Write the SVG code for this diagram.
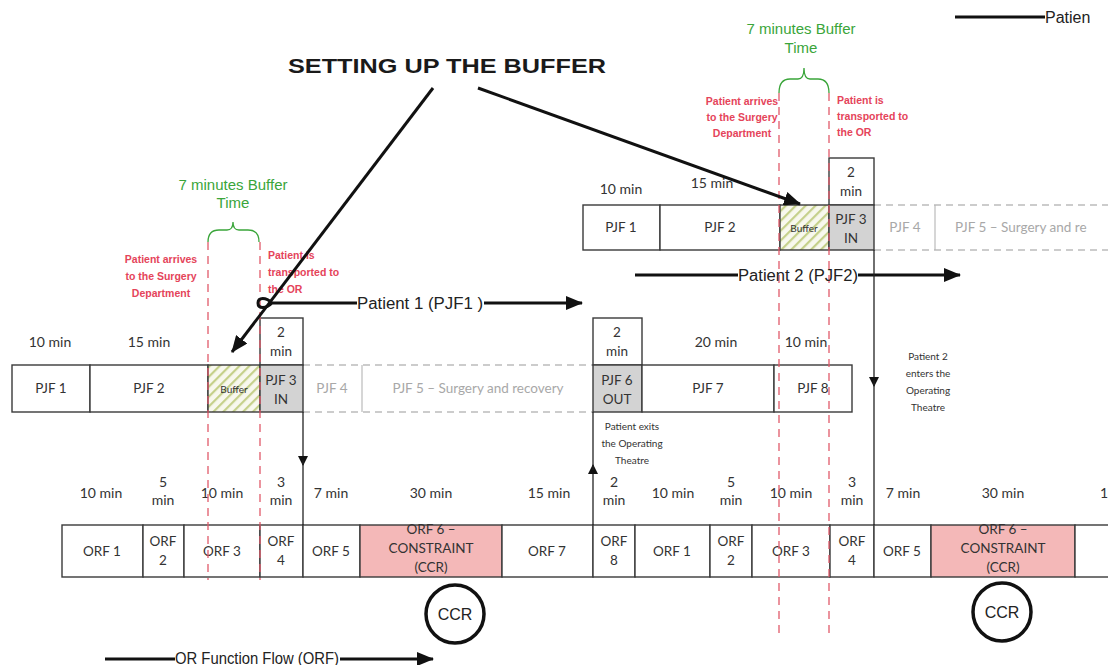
<svg xmlns="http://www.w3.org/2000/svg" width="1108" height="665" viewBox="0 0 1108 665">
<defs>
  <pattern id="hatch" patternUnits="userSpaceOnUse" width="7" height="7" patternTransform="rotate(45)">
    <rect width="7" height="7" fill="#f8f8ee"/>
    <line x1="1" y1="0" x2="1" y2="7" stroke="#c5d08a" stroke-width="2.4"/>
  </pattern>
  <marker id="big" markerUnits="userSpaceOnUse" markerWidth="18" markerHeight="14" refX="16" refY="7" orient="auto">
    <path d="M0,0 L17,7 L0,14 Z" fill="#111"/>
  </marker>
  <marker id="small" markerUnits="userSpaceOnUse" markerWidth="10" markerHeight="10" refX="9" refY="5" orient="auto">
    <path d="M0,0 L10,5 L0,10 Z" fill="#111"/>
  </marker>
  <style>
    .box{fill:#fff;stroke:#3a3a3a;stroke-width:1.4}
    .grey{fill:#d3d3d3;stroke:#3a3a3a;stroke-width:1.4}
    .buf{fill:url(#hatch);stroke:#3a3a3a;stroke-width:1.4}
    .ccr{fill:#f4b8b8;stroke:#3a3a3a;stroke-width:1.4}
    .ghost{fill:none;stroke:#9a9a9a;stroke-width:1.1;stroke-dasharray:7 5}
    .ghostv{fill:none;stroke:#b5b5b5;stroke-width:1.1}
    .t{font-family:Lato,"Liberation Sans",sans-serif;font-size:13.5px;fill:#333;text-anchor:middle}
    .tl{font-family:Lato,"Liberation Sans",sans-serif;font-size:14px;fill:#333;text-anchor:middle}
    .ts{font-family:Lato,"Liberation Sans",sans-serif;font-size:10px;fill:#333;text-anchor:middle}
    .tg{fill:#a8a8a8}
    .red{font-family:"Liberation Sans",sans-serif;font-size:10.5px;font-weight:bold;fill:#e5445a}
    .green{font-family:"Liberation Sans",sans-serif;font-size:15px;fill:#3aa53a;text-anchor:middle}
    .arial{font-family:"Liberation Sans",sans-serif;font-size:16px;fill:#222}
    .redline{fill:none;stroke:#e05a6a;stroke-width:1.3;stroke-dasharray:8 6}
    .brace{fill:none;stroke:#3aa53a;stroke-width:1.3}
    .thick{fill:none;stroke:#111;stroke-width:3}
    .conn{fill:none;stroke:#222;stroke-width:1.3}
    .circ{fill:#fff;stroke:#111;stroke-width:3.5}
  </style>
</defs>
<rect width="1108" height="665" fill="#fff"/>

<!-- Title -->
<g id="title">
  <text x="288" y="73" font-family="Liberation Sans, sans-serif" font-size="21" font-weight="bold" fill="#1a1a1a" textLength="318" lengthAdjust="spacingAndGlyphs">SETTING UP THE BUFFER</text>
</g>

<!-- Buffer annotations -->
<g id="buffer-left-annotation">
  <text class="green" x="233" y="190">7 minutes Buffer</text>
  <text class="green" x="233" y="208">Time</text>
  <path class="brace" d="M208,242 Q208,230 219,230 L227,230 Q233,230 233,222 Q233,230 239,230 L248,230 Q259,230 259,242"/>
  <text class="red" x="161" y="263" text-anchor="middle">Patient arrives</text>
  <text class="red" x="161" y="280" text-anchor="middle">to the Surgery</text>
  <text class="red" x="161" y="297" text-anchor="middle">Department</text>
  <text class="red" x="268" y="259">Patient is</text>
  <text class="red" x="268" y="276">transported to</text>
  <text class="red" x="268" y="293">the OR</text>
</g>
<g id="buffer-right-annotation">
  <text class="green" x="801" y="34">7 minutes Buffer</text>
  <text class="green" x="801" y="53">Time</text>
  <path class="brace" d="M779,93 Q779,79 790,79 L798,79 Q804,79 804,68 Q804,79 810,79 L818,79 Q829,79 829,93"/>
  <text class="red" x="742" y="105" text-anchor="middle">Patient arrives</text>
  <text class="red" x="742" y="121" text-anchor="middle">to the Surgery</text>
  <text class="red" x="742" y="137" text-anchor="middle">Department</text>
  <text class="red" x="837" y="104">Patient is</text>
  <text class="red" x="837" y="120">transported to</text>
  <text class="red" x="837" y="136">the OR</text>
</g>

<!-- Patient 1 PJF row -->
<g id="pjf1-row">
  <text class="tl" x="50" y="347">10 min</text>
  <text class="tl" x="149" y="347">15 min</text>
  <text class="tl" x="716" y="347">20 min</text>
  <text class="tl" x="806" y="347">10 min</text>
  <line class="ghost" x1="303" y1="365" x2="593" y2="365"/>
  <line class="ghost" x1="303" y1="412" x2="593" y2="412"/>
  <line class="ghostv" x1="362" y1="365" x2="362" y2="412"/>
  <g id="p1-pjf1"><rect class="box" x="12" y="365" width="78" height="47"/><text class="t" x="51" y="393">PJF 1</text></g>
  <g id="p1-pjf2"><rect class="box" x="90" y="365" width="118" height="47"/><text class="t" x="149" y="393">PJF 2</text></g>
  <g id="p1-buffer"><rect class="buf" x="208" y="365" width="52" height="47"/><text class="ts" x="234" y="393" font-size="9">Buffer</text></g>
  <g id="p1-pjf3"><rect class="box" x="260" y="318" width="43" height="47"/><text class="t" x="281" y="337">2</text><text class="t" x="281" y="356">min</text>
    <rect class="grey" x="260" y="365" width="43" height="47"/><text class="t" x="281" y="385">PJF 3</text><text class="t" x="281" y="404">IN</text></g>
  <g id="p1-pjf4"><text class="t tg" x="332" y="393">PJF 4</text></g>
  <g id="p1-pjf5"><text class="t tg" x="478" y="393">PJF 5 – Surgery and recovery</text></g>
  <g id="p1-pjf6"><rect class="box" x="593" y="318" width="49" height="47"/><text class="t" x="617" y="337">2</text><text class="t" x="617" y="356">min</text>
    <rect class="grey" x="593" y="365" width="49" height="47"/><text class="t" x="617" y="385">PJF 6</text><text class="t" x="617" y="404">OUT</text></g>
  <g id="p1-pjf7"><rect class="box" x="642" y="365" width="132" height="47"/><text class="t" x="708" y="393">PJF 7</text></g>
  <g id="p1-pjf8"><rect class="box" x="774" y="365" width="78" height="47"/><text class="t" x="813" y="393">PJF 8</text></g>
  <g id="exit-note">
    <text class="ts" x="632" y="430">Patient exits</text>
    <text class="ts" x="632" y="447">the Operating</text>
    <text class="ts" x="632" y="464">Theatre</text>
  </g>
</g>

<!-- Patient 2 PJF row -->
<g id="pjf2-row">
  <text class="tl" x="621" y="194">10 min</text>
  <text class="tl" x="712" y="188">15 min</text>
  <line class="ghost" x1="874" y1="205" x2="1108" y2="205"/>
  <line class="ghost" x1="874" y1="250" x2="1108" y2="250"/>
  <line class="ghostv" x1="935" y1="205" x2="935" y2="250"/>
  <g id="p2-pjf1"><rect class="box" x="583" y="205" width="77" height="45"/><text class="t" x="621" y="232">PJF 1</text></g>
  <g id="p2-pjf2"><rect class="box" x="660" y="205" width="120" height="45"/><text class="t" x="720" y="232">PJF 2</text></g>
  <g id="p2-buffer"><rect class="buf" x="780" y="205" width="49" height="45"/><text class="ts" x="804" y="232" font-size="9">Buffer</text></g>
  <g id="p2-pjf3"><rect class="box" x="829" y="158" width="45" height="47"/><text class="t" x="851" y="177">2</text><text class="t" x="851" y="196">min</text>
    <rect class="grey" x="829" y="205" width="45" height="45"/><text class="t" x="851" y="224">PJF 3</text><text class="t" x="851" y="243">IN</text></g>
  <g id="p2-pjf4"><text class="t tg" x="905" y="232">PJF 4</text></g>
  <g id="p2-pjf5"><text class="t tg" x="955" y="232" style="text-anchor:start">PJF 5 – Surgery and re</text></g>
  <g id="enter-note">
    <text class="ts" x="928" y="360">Patient 2</text>
    <text class="ts" x="928" y="377">enters the</text>
    <text class="ts" x="928" y="394">Operating</text>
    <text class="ts" x="928" y="411">Theatre</text>
  </g>
</g>

<!-- ORF row -->
<g id="orf-row">
  <text class="tl" x="101" y="498">10 min</text>
  <text class="tl" x="163" y="487">5</text><text class="tl" x="163" y="505">min</text>
  <text class="tl" x="222" y="498">10 min</text>
  <text class="tl" x="281" y="487">3</text><text class="tl" x="281" y="505">min</text>
  <text class="tl" x="331" y="498">7 min</text>
  <text class="tl" x="431" y="498">30 min</text>
  <text class="tl" x="549" y="498">15 min</text>
  <text class="tl" x="614" y="487">2</text><text class="tl" x="614" y="505">min</text>
  <text class="tl" x="673" y="498">10 min</text>
  <text class="tl" x="731" y="487">5</text><text class="tl" x="731" y="505">min</text>
  <text class="tl" x="791" y="498">10 min</text>
  <text class="tl" x="852" y="487">3</text><text class="tl" x="852" y="505">min</text>
  <text class="tl" x="903" y="498">7 min</text>
  <text class="tl" x="1003" y="498">30 min</text>
  <text class="tl" x="1100" y="498" style="text-anchor:start">1</text>
  <g id="orf1a"><rect class="box" x="62" y="525" width="81" height="52"/><text class="t" x="102" y="556">ORF 1</text></g>
  <g id="orf2a"><rect class="box" x="143" y="525" width="41" height="52"/><text class="t" x="163" y="546">ORF</text><text class="t" x="163" y="565">2</text></g>
  <g id="orf3a"><rect class="box" x="184" y="525" width="76" height="52"/><text class="t" x="222" y="556">ORF 3</text></g>
  <g id="orf4a"><rect class="box" x="260" y="525" width="43" height="52"/><text class="t" x="281" y="546">ORF</text><text class="t" x="281" y="565">4</text></g>
  <g id="orf5a"><rect class="box" x="303" y="525" width="57" height="52"/><text class="t" x="331" y="556">ORF 5</text></g>
  <g id="orf6a"><rect class="ccr" x="360" y="525" width="142" height="52"/><text class="t" x="431" y="534">ORF 6 –</text><text class="t" x="431" y="553">CONSTRAINT</text><text class="t" x="431" y="572">(CCR)</text></g>
  <g id="orf7a"><rect class="box" x="502" y="525" width="91" height="52"/><text class="t" x="547" y="556">ORF 7</text></g>
  <g id="orf8a"><rect class="box" x="593" y="525" width="42" height="52"/><text class="t" x="614" y="546">ORF</text><text class="t" x="614" y="565">8</text></g>
  <g id="orf1b"><rect class="box" x="635" y="525" width="75" height="52"/><text class="t" x="672" y="556">ORF 1</text></g>
  <g id="orf2b"><rect class="box" x="710" y="525" width="42" height="52"/><text class="t" x="731" y="546">ORF</text><text class="t" x="731" y="565">2</text></g>
  <g id="orf3b"><rect class="box" x="752" y="525" width="78" height="52"/><text class="t" x="791" y="556">ORF 3</text></g>
  <g id="orf4b"><rect class="box" x="830" y="525" width="44" height="52"/><text class="t" x="852" y="546">ORF</text><text class="t" x="852" y="565">4</text></g>
  <g id="orf5b"><rect class="box" x="874" y="525" width="57" height="52"/><text class="t" x="902" y="556">ORF 5</text></g>
  <g id="orf6b"><rect class="ccr" x="931" y="525" width="144" height="52"/><text class="t" x="1003" y="534">ORF 6 –</text><text class="t" x="1003" y="553">CONSTRAINT</text><text class="t" x="1003" y="572">(CCR)</text></g>
  <g id="orf7b"><rect class="box" x="1075" y="525" width="60" height="52"/></g>
  <g id="ccr1"><circle class="circ" cx="455" cy="614" r="29"/><text class="arial" x="455" y="620" text-anchor="middle" font-size="16">CCR</text></g>
  <g id="ccr2"><circle class="circ" cx="1002" cy="612" r="29"/><text class="arial" x="1002" y="618" text-anchor="middle" font-size="16">CCR</text></g>
</g>

<!-- red dashed time markers -->
<g id="markers">
  <line class="redline" x1="208" y1="242" x2="208" y2="580"/>
  <line class="redline" x1="260" y1="242" x2="260" y2="580"/>
  <line class="redline" x1="779" y1="93" x2="779" y2="636"/>
  <line class="redline" x1="829" y1="93" x2="829" y2="636"/>
</g>

<!-- connectors -->
<g id="connectors">
  <line class="thick" x1="433" y1="88" x2="232" y2="352" marker-end="url(#big)"/>
  <line class="thick" x1="478" y1="88" x2="800" y2="204" marker-end="url(#big)"/>
  <!-- Patient 1 flow -->
  <path class="thick" d="M357,303 L272,303 C266,297 258,297 258,303 C258,309 266,309 272,303" stroke-width="2.5"/>
  <text class="arial" x="357" y="309" textLength="126" lengthAdjust="spacingAndGlyphs">Patient 1 (PJF1 )</text>
  <line class="thick" x1="484" y1="303" x2="582" y2="303" marker-end="url(#big)"/>
  <!-- Patient 2 flow -->
  <line class="thick" x1="635" y1="275" x2="738" y2="275"/>
  <text class="arial" x="738" y="281" textLength="120" lengthAdjust="spacingAndGlyphs">Patient 2 (PJF2)</text>
  <line class="thick" x1="858" y1="275" x2="960" y2="275" marker-end="url(#big)"/>
  <!-- top right legend -->
  <line class="thick" x1="955" y1="17" x2="1045" y2="17"/>
  <text class="arial" x="1045" y="23" font-size="17">Patien</text>
  <!-- ORF flow -->
  <line class="thick" x1="105" y1="659" x2="175" y2="659"/>
  <text class="arial" x="175" y="664" font-size="15" textLength="164" lengthAdjust="spacingAndGlyphs">OR Function Flow (ORF)</text>
  <line class="thick" x1="340" y1="659" x2="433" y2="659" marker-end="url(#big)"/>
  <!-- vertical connectors -->
  <line class="conn" x1="303" y1="412" x2="303" y2="465" marker-end="url(#small)"/>
  <line class="conn" x1="303" y1="460" x2="303" y2="525"/>
  <line class="conn" x1="593" y1="525" x2="593" y2="465" marker-end="url(#small)"/>
  <line class="conn" x1="593" y1="470" x2="593" y2="412"/>
  <line class="conn" x1="874" y1="250" x2="874" y2="386" marker-end="url(#small)"/>
  <line class="conn" x1="874" y1="380" x2="874" y2="525"/>
</g>
</svg>
